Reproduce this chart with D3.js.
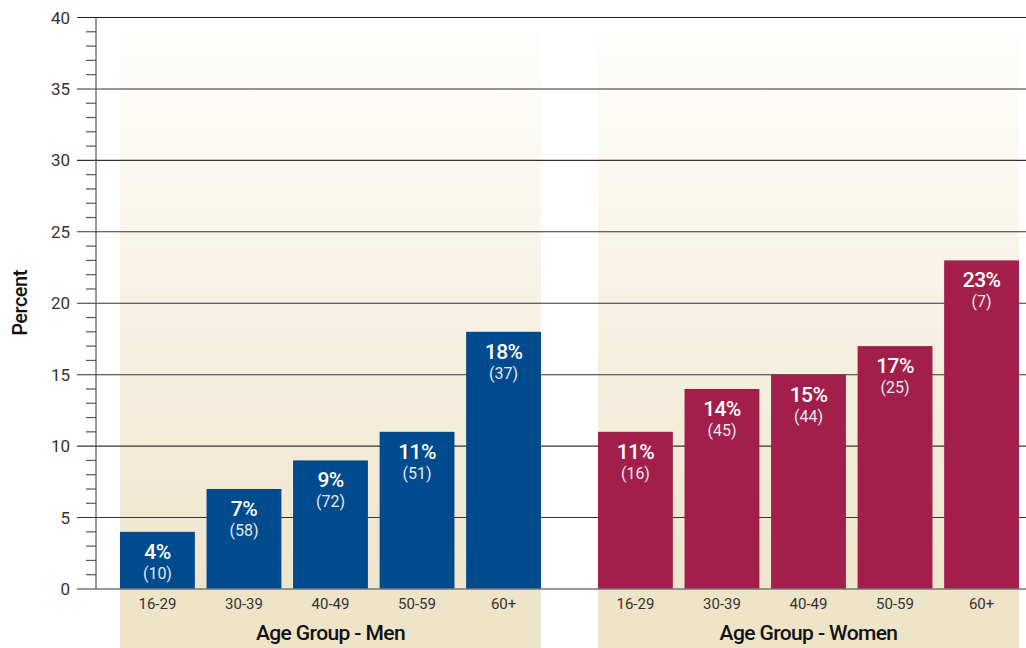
<!DOCTYPE html>
<html>
<head>
<meta charset="utf-8">
<script src="https://cdn.jsdelivr.net/npm/d3@7"></script>
<style>
  html, body { margin: 0; padding: 0; background: #fff; }
  svg { display: block; font-family: "Roboto", "Liberation Sans", sans-serif; }
</style>
</head>
<body>
<svg id="chart" width="1026" height="648"></svg>
<script>
// Age groups shared by both panels
const ageGroups = ["16-29", "30-39", "40-49", "50-59", "60+"];
// Percent of each group, by sex
const menPercent = [4, 7, 9, 11, 18];
const womenPercent = [11, 14, 15, 17, 23];
// Number of respondents behind each percentage
const menCounts = [10, 58, 72, 51, 37];
const womenCounts = [16, 45, 44, 25, 7];
// Y axis tick values
const yTicks = [0, 5, 10, 15, 20, 25, 30, 35, 40];

const panels = [
  { title: "Age Group - Men", values: menPercent, counts: menCounts, color: "#004b8d", x0: 120, x1: 541 },
  { title: "Age Group - Women", values: womenPercent, counts: womenCounts, color: "#a21f4b", x0: 598, x1: 1019 }
];

const svg = d3.select("#chart");
const axisX = 96, plotRight = 1026, plotTop = 17.5, plotBottom = 589;

const y = d3.scaleLinear().domain([0, 40]).range([plotBottom, plotTop]);

// Soft vertical gradient behind each panel
const defs = svg.append("defs");
const grad = defs.append("linearGradient").attr("id", "panelFill")
  .attr("x1", 0).attr("y1", 0).attr("x2", 0).attr("y2", 1);
grad.append("stop").attr("offset", "0%").attr("stop-color", "#fefefd");
grad.append("stop").attr("offset", "100%").attr("stop-color", "#efe5cb");

panels.forEach(p => {
  svg.append("rect")
    .attr("x", p.x0).attr("y", 30)
    .attr("width", p.x1 - p.x0).attr("height", plotBottom - 30)
    .attr("fill", "url(#panelFill)");
  svg.append("rect")
    .attr("x", p.x0).attr("y", plotBottom)
    .attr("width", p.x1 - p.x0).attr("height", 648 - plotBottom)
    .attr("fill", "#eee4c8");
});

// Minor ticks on the left axis
const minor = d3.range(0, 40.001, 1).filter(v => v % 5 !== 0);
svg.append("g").selectAll("line").data(minor).join("line")
  .attr("x1", 86).attr("x2", axisX)
  .attr("y1", d => y(d)).attr("y2", d => y(d))
  .attr("stroke", "#555").attr("stroke-width", 1.2);

// Major gridlines, behind the bars
svg.append("g").selectAll("line").data(yTicks.filter(d => d > 0)).join("line")
  .attr("x1", 77).attr("x2", plotRight)
  .attr("y1", d => y(d)).attr("y2", d => y(d))
  .attr("stroke", d => d === 40 ? "#222" : "#333")
  .attr("stroke-width", 1.1);

// Bars, value labels and category labels per panel
panels.forEach(p => {
  const x = d3.scaleBand().domain(ageGroups).range([p.x0, p.x1]).paddingInner(0.135).paddingOuter(0);
  const g = svg.append("g");
  g.selectAll("rect").data(p.values).join("rect")
    .attr("x", (d, i) => x(ageGroups[i]))
    .attr("y", d => y(d))
    .attr("width", x.bandwidth())
    .attr("height", d => y(0) - y(d))
    .attr("fill", p.color);

  g.selectAll("text.pct").data(p.values).join("text")
    .attr("class", "pct")
    .attr("x", (d, i) => x(ageGroups[i]) + x.bandwidth() / 2)
    .attr("y", d => y(d) + 27)
    .attr("text-anchor", "middle")
    .attr("fill", "#fff").attr("font-size", 21).attr("font-weight", 500)
    .attr("letter-spacing", -0.6)
    .text(d => d + "%");

  g.selectAll("text.cnt").data(p.counts).join("text")
    .attr("class", "cnt")
    .attr("x", (d, i) => x(ageGroups[i]) + x.bandwidth() / 2)
    .attr("y", (d, i) => y(p.values[i]) + 47)
    .attr("text-anchor", "middle")
    .attr("fill", "#e6e8f0").attr("font-size", 16)
    .text(d => "(" + d + ")");

  g.selectAll("text.cat").data(ageGroups).join("text")
    .attr("class", "cat")
    .attr("x", d => x(d) + x.bandwidth() / 2)
    .attr("y", 609)
    .attr("text-anchor", "middle")
    .attr("fill", "#333").attr("font-size", 15)
    .text(d => d);

  svg.append("text")
    .attr("x", (p.x0 + p.x1) / 2).attr("y", 640)
    .attr("text-anchor", "middle")
    .attr("fill", "#111").attr("font-size", 21).attr("font-weight", 500)
    .attr("letter-spacing", -0.6)
    .text(p.title);
});

// Baseline at zero
svg.append("line")
  .attr("x1", 77).attr("x2", plotRight)
  .attr("y1", y(0)).attr("y2", y(0))
  .attr("stroke", "#777").attr("stroke-width", 1.6);

// Left axis line and labels
svg.append("line")
  .attr("x1", axisX).attr("x2", axisX)
  .attr("y1", plotTop).attr("y2", plotBottom)
  .attr("stroke", "#555").attr("stroke-width", 1.2);

svg.append("g").selectAll("text").data(yTicks).join("text")
  .attr("x", 70).attr("y", d => y(d) + 6)
  .attr("text-anchor", "end")
  .attr("fill", "#333").attr("font-size", 17)
  .text(d => d);

svg.append("text")
  .attr("transform", "translate(27,303) rotate(-90)")
  .attr("text-anchor", "middle")
  .attr("fill", "#111").attr("font-size", 20).attr("font-weight", 500)
  .attr("letter-spacing", -0.5)
  .text("Percent");
</script>
</body>
</html>
